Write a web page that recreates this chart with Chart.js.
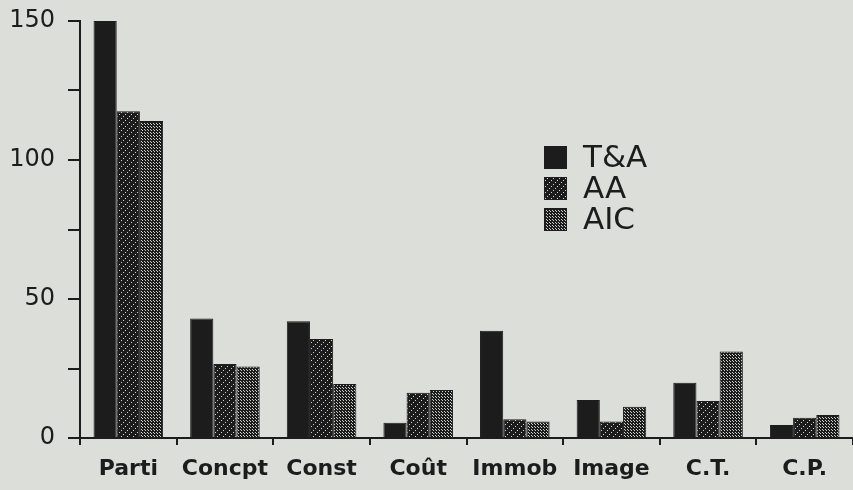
<!DOCTYPE html>
<html>
<head>
<meta charset="utf-8">
<script src="https://cdn.jsdelivr.net/npm/chart.js@4"></script>
<style>
    html, body { margin: 0; padding: 0; background: #dcdeda; }
    #wrap { width: 853px; height: 490px; position: relative; }
</style>
</head>
<body>
<div id="wrap"><canvas id="chart"></canvas></div>
<script>
const categories = ['Parti', 'Concpt', 'Const', 'Coût', 'Immob', 'Image', 'C.T.', 'C.P.'];
const seriesNames = ['T&A', 'AA', 'AIC'];
const taValues  = [150, 43, 42, 5.5, 38.6, 13.7, 19.9, 4.7];
const aaValues  = [117.5, 26.6, 35.6, 16.3, 6.7, 5.9, 13.3, 7.3];
const aicValues = [114, 25.7, 19.4, 17.3, 5.9, 11.2, 31.1, 8.3];
const yTickLabels = [0, 50, 100, 150];

const ink = '#1c1c1c';
const light = '#d0d2cd';

// small tiles for the old bitmap fill patterns
function makePattern(size, dots) {
    const c = document.createElement('canvas');
    c.width = size; c.height = size;
    const g = c.getContext('2d');
    g.fillStyle = ink;
    g.fillRect(0, 0, size, size);
    g.fillStyle = light;
    dots.forEach(([x, y]) => g.fillRect(x, y, 1, 1));
    return g.createPattern(c, 'repeat');
}

const hatch = makePattern(6, [[5, 0], [3, 2], [1, 4]]);
const mesh = makePattern(3, [[1, 1], [0, 0]]);

const fills = [ink, hatch, mesh];
const seriesValues = [taValues, aaValues, aicValues];

// legend drawn inside the plot, like the original
const legendPlugin = {
    id: 'boxLegend',
    afterDraw(chart) {
        const ctx = chart.ctx;
        ctx.save();
        ctx.font = '31px "DejaVu Sans"';
        ctx.textBaseline = 'middle';
        chart.data.datasets.forEach((ds, i) => {
            const y = 157 + i * 31;
            ctx.fillStyle = ds.backgroundColor;
            ctx.fillRect(544, y - 11, 23, 23);
            ctx.strokeStyle = ink;
            ctx.lineWidth = 1;
            ctx.strokeRect(544.5, y - 10.5, 22, 22);
            ctx.fillStyle = ink;
            ctx.fillText(ds.label, 583, y + 2);
        });
        ctx.restore();
    }
};

new Chart(document.getElementById('chart'), {
    type: 'bar',
    data: {
        labels: categories,
        datasets: seriesNames.map((name, i) => ({
            label: name,
            data: seriesValues[i],
            backgroundColor: fills[i],
            borderColor: ink,
            borderWidth: 1,
            categoryPercentage: 0.72,
            barPercentage: 1.0
        }))
    },
    options: {
        responsive: true,
        maintainAspectRatio: false,
        animation: false,
        layout: { padding: { top: 21, right: 0, left: 0, bottom: 0 } },
        plugins: {
            legend: { display: false },
            tooltip: { enabled: false }
        },
        scales: {
            x: {
                grid: {
                    offset: true,
                    drawOnChartArea: false,
                    tickLength: 7,
                    color: ink,
                    lineWidth: 2
                },
                border: { color: ink, width: 2 },
                ticks: {
                    color: ink,
                    padding: 11,
                    font: { family: 'DejaVu Sans', size: 22, weight: '600' }
                },
                afterFit(scale) { scale.height = 52; }
            },
            y: {
                min: 0,
                max: 150,
                grid: {
                    drawOnChartArea: false,
                    tickLength: 12,
                    color: ink,
                    lineWidth: 2
                },
                border: { color: ink, width: 2 },
                ticks: {
                    stepSize: 25,
                    color: ink,
                    padding: 13,
                    font: { family: 'DejaVu Sans', size: 24 },
                    callback: (v) => yTickLabels.includes(v) ? v : ''
                },
                afterFit(scale) {
                    scale.width = 80;
                    scale.paddingTop = 0;
                    scale.paddingBottom = 0;
                }
            }
        }
    },
    plugins: [legendPlugin]
});
</script>
</body>
</html>
